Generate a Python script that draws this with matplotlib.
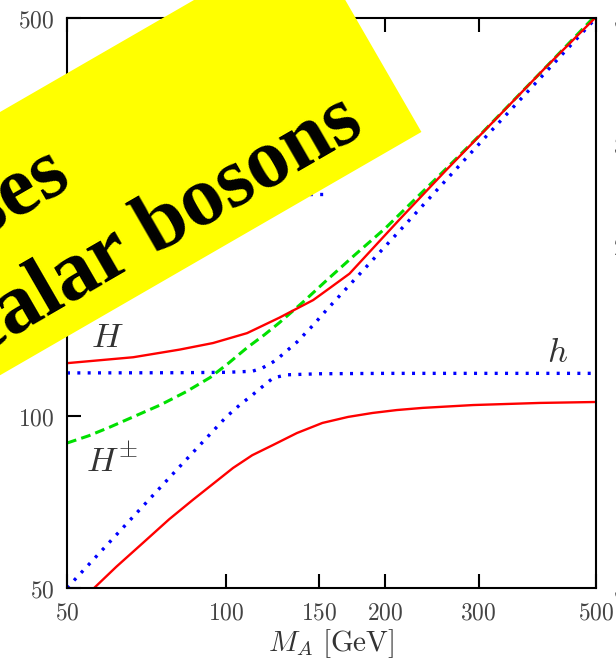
import numpy as np
import matplotlib
matplotlib.use("Agg")
import matplotlib.pyplot as plt
from matplotlib.patches import Polygon
from matplotlib.ticker import FixedLocator, FixedFormatter, NullLocator

plt.rcParams['mathtext.fontset'] = 'cm'

# --- data (GeV) ---
h_ma = [55, 62, 69.6, 78, 86.5, 95, 103, 112, 122.6, 136, 152, 170, 189, 210, 235, 293, 392, 500]
h_mass = [49, 54.5, 60, 66, 71.4, 76.5, 81.2, 85.5, 89.1, 93.5, 97.4, 99.8, 101.4, 102.6,
          103.5, 104.7, 105.6, 106]

H_ma = [50, 66.7, 81.7, 94.4, 109.5, 126, 146, 157, 171, 213, 260, 329, 400, 500]
H_mass = [124, 127, 131, 134.5, 140, 149, 160, 168, 178, 222, 270, 338, 408, 502]

Hpm_ma = [50, 55, 60.3, 67, 75, 84, 93.2, 101, 109.5, 118, 126, 140, 155, 175, 200, 250,
          300, 400, 500]
Hpm_mass = [89.8, 92.5, 95.8, 100, 104.7, 110.5, 117, 124, 132, 139, 146, 159, 173.5, 192,
            214, 262, 310, 408, 506]

# tree-level branches (blue dotted)
lo_ma = [50, 80, 100, 106, 112, 116, 122.6, 130, 150, 200, 300, 500]
lo_mass = [50, 80, 99.8, 104.7, 109, 112, 116.8, 118.3, 118.8, 119, 119, 119]
up_ma = [50, 80, 100, 112, 117, 122.6, 126, 136, 146, 155, 171, 213, 300, 500]
up_mass = [119.2, 119.3, 119.5, 120, 121.6, 124.6, 127, 135, 144.6, 154, 170, 212, 300, 500]

stub_ma = [120, 153]
stub_mass = [246, 246]

ticks = [50, 100, 150, 200, 300, 500]
tick_labels = [r'$\mathrm{%d}$' % t for t in ticks]

W, H = 616, 658
fig = plt.figure(figsize=(W / 100, H / 100), dpi=100)
ax = fig.add_axes([67 / W, 1 - 588 / H, (596 - 67) / W, (588 - 18) / H])

dot = dict(color='#0000ff', lw=2.4, linestyle=(0, (0.9, 2.2)))
ax.plot(lo_ma, lo_mass, **dot)
ax.plot(up_ma, up_mass, **dot)
ax.plot(stub_ma, stub_mass, **dot)
ax.plot(Hpm_ma, Hpm_mass, color='#00e000', lw=2.2, linestyle=(0, (3.2, 1.7)))
ax.plot(h_ma, h_mass, color='#ff0000', lw=1.7)
ax.plot(H_ma, H_mass, color='#ff0000', lw=1.7)

ax.set_xscale('log')
ax.set_yscale('log')
ax.set_xlim(50, 500)
ax.set_ylim(50, 500)

for axis in (ax.xaxis, ax.yaxis):
    axis.set_major_locator(FixedLocator(ticks))
    axis.set_major_formatter(FixedFormatter(tick_labels))
    axis.set_minor_locator(NullLocator())

ax.tick_params(which='major', direction='in', length=10, width=1.5,
               top=True, right=True, labelsize=17, labelcolor='#444444', pad=9)
for sp in ax.spines.values():
    sp.set_linewidth(1.5)

# right-hand labels sit further out and are mostly cut by the figure edge
ax2 = ax.twinx()
ax2.set_yscale('log')
ax2.set_ylim(50, 500)
ax2.yaxis.set_major_locator(FixedLocator(ticks))
ax2.yaxis.set_major_formatter(FixedFormatter(tick_labels))
ax2.yaxis.set_minor_locator(NullLocator())
ax2.tick_params(which='major', direction='in', length=0, labelsize=17,
                labelcolor='#555555', pad=12)
for sp in ax2.spines.values():
    sp.set_visible(False)

ax.set_xlabel(r'$M_A\ [\mathrm{GeV}]$', fontsize=21, color='#333333', labelpad=2)

lab = dict(fontsize=25, color='#333333', ha='center', va='center')
ax.text(59.5, 137.8, r'$H$', **lab)
ax.text(60.9, 83.2, r'$H^{\pm}$', **lab)
ax.text(422, 129.7, r'$h$', **lab)

# yellow banner over the top-left corner
ang = np.deg2rad(30)
def px(u, v):
    x = u * np.cos(ang) + v * np.sin(ang)
    y = -u * np.sin(ang) + v * np.cos(ang)
    return (x / W, 1 - y / H)

corners = [px(-700, 97), px(299, 97), px(299, 325), px(-700, 325)]
fig.add_artist(Polygon(corners, closed=True, facecolor='#ffff00', edgecolor='none',
                       transform=fig.transFigure, zorder=5))

banner = dict(fontsize=61, fontweight='bold', family=['Liberation Serif', 'DejaVu Serif'],
              color='black', rotation=30, rotation_mode='anchor', ha='right',
              va='baseline', zorder=6)
fig.text(74 / W, 1 - 184 / H, 'Masses', **banner)
fig.text(366 / W, 1 - 132 / H, 'of scalar bosons', **banner)

fig.savefig('out.png', dpi=100)
